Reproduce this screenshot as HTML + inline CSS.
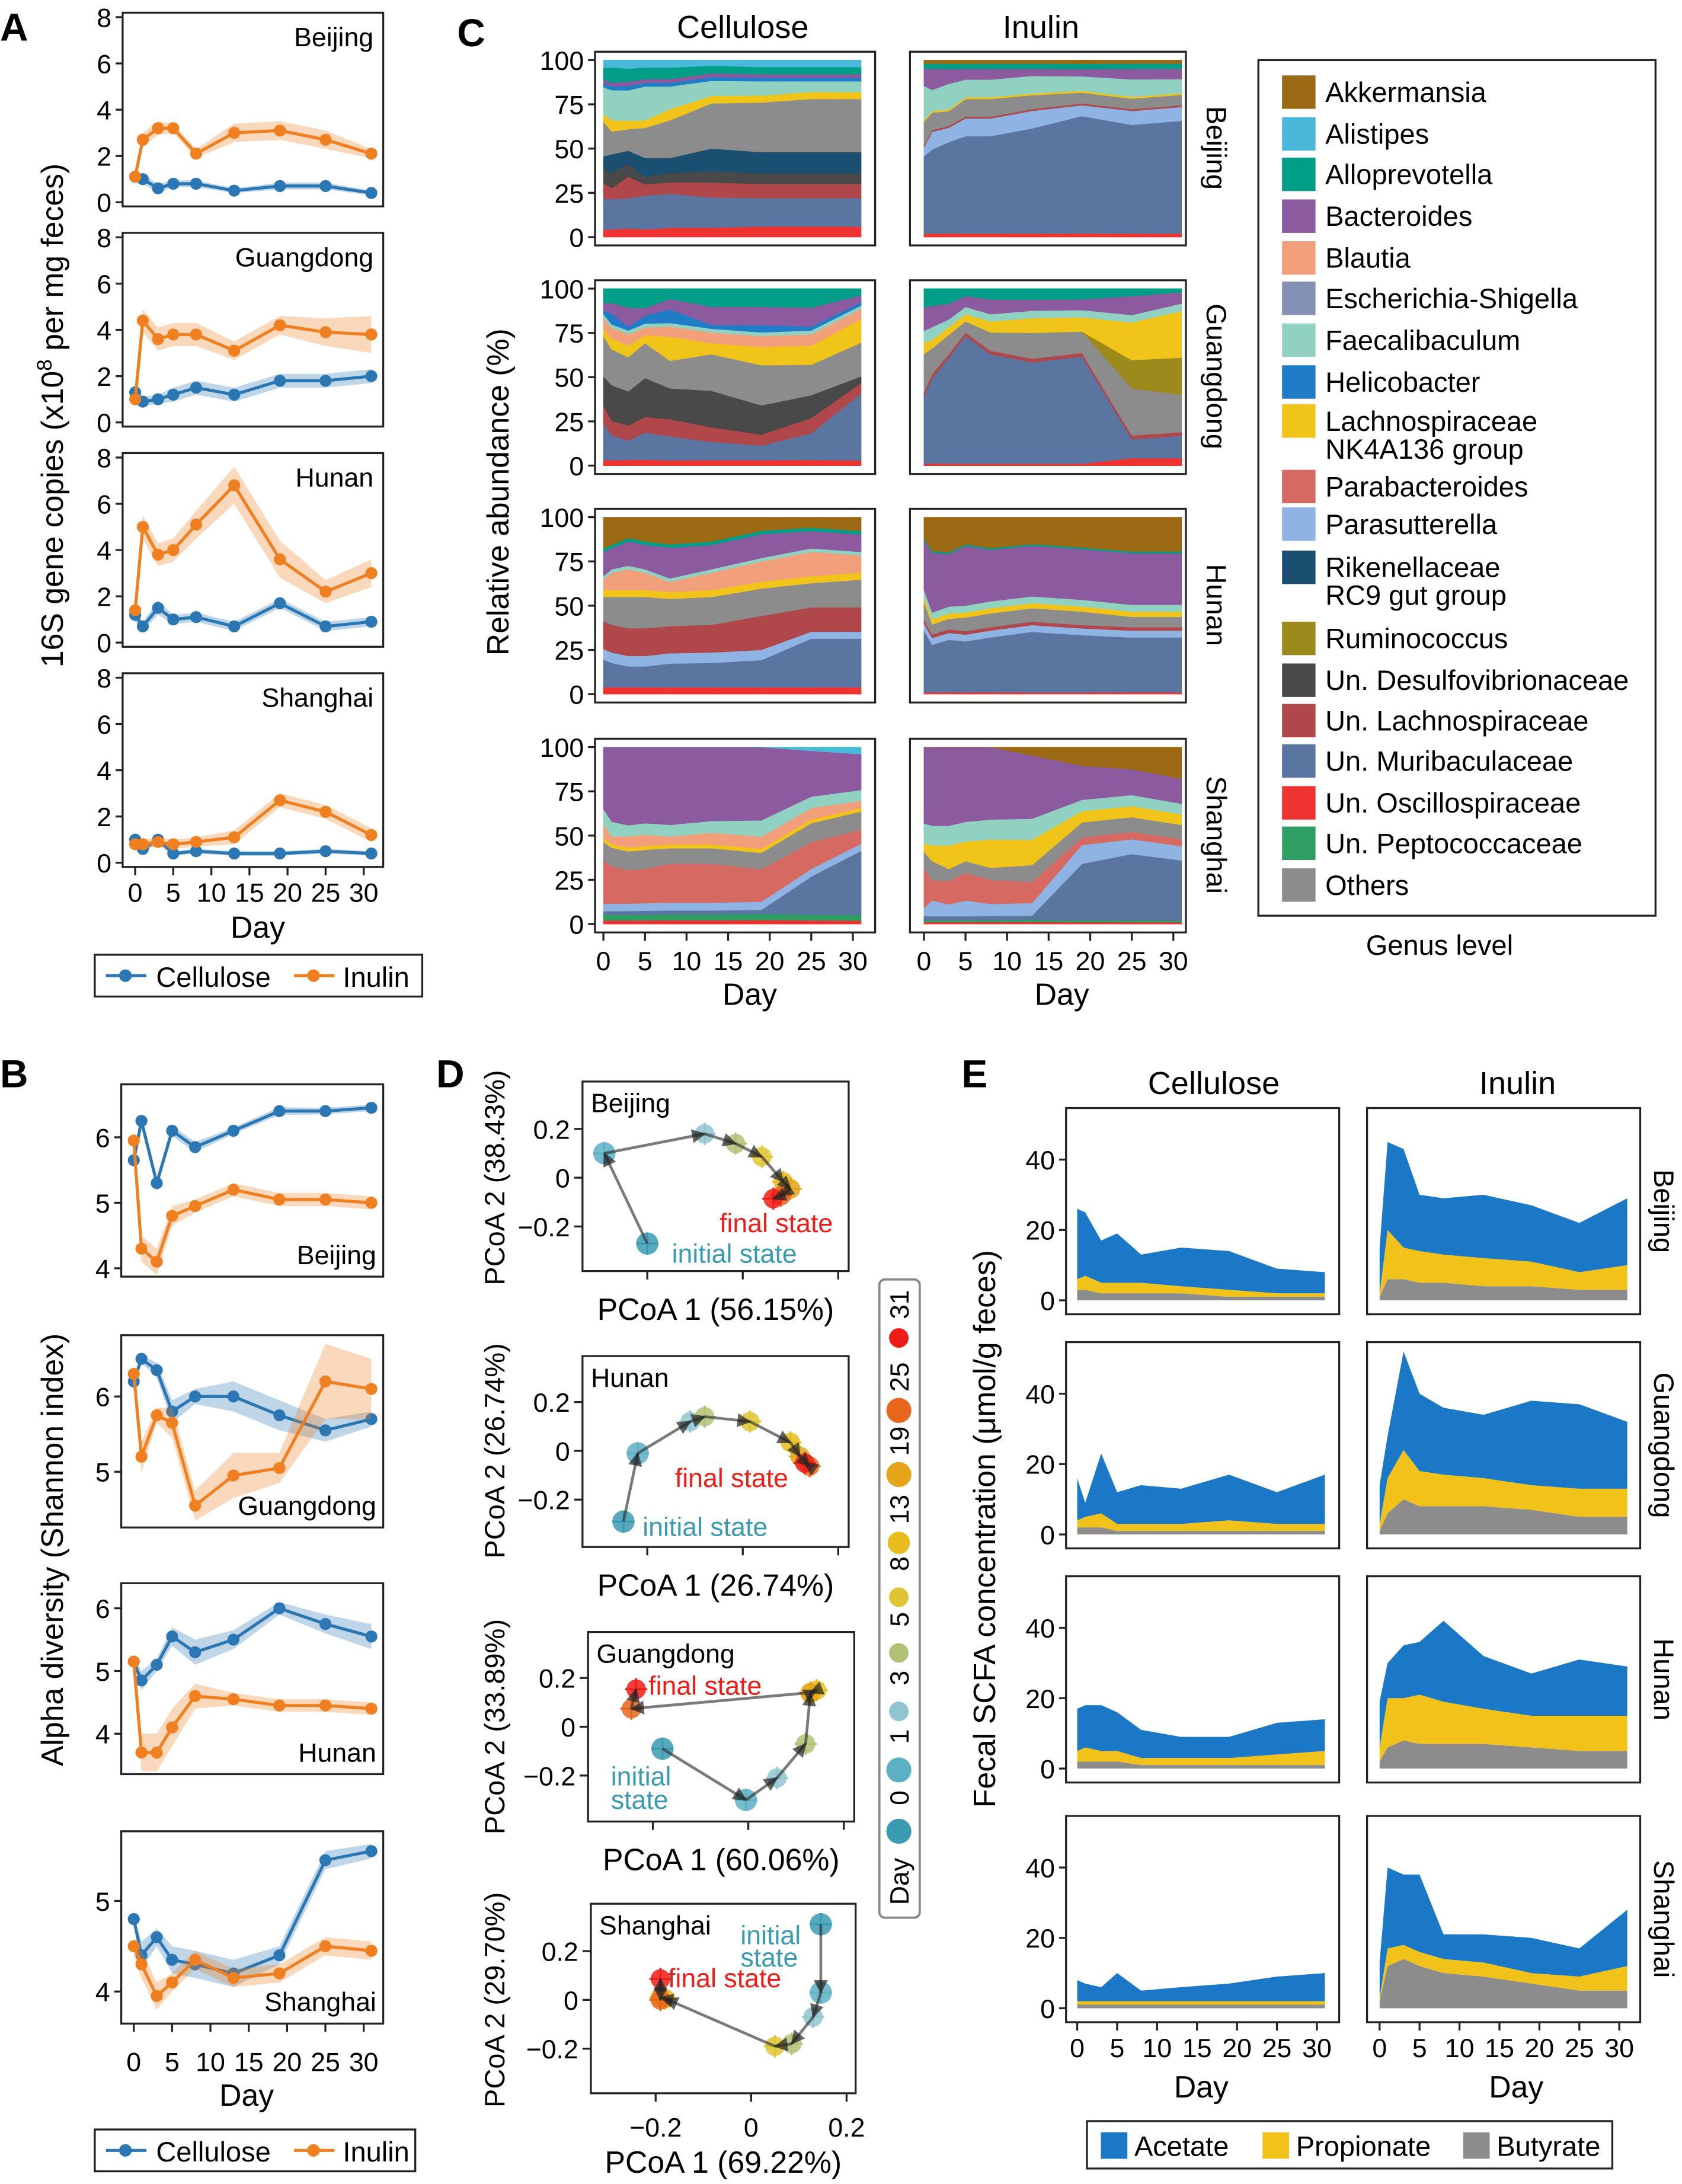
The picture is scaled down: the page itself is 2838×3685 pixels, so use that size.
<!DOCTYPE html>
<html><head><meta charset="utf-8">
<style>
html,body{margin:0;padding:0;background:#fff;}
svg{display:block;}
text{font-family:"Liberation Sans",Arial,sans-serif;}
</style></head>
<body>
<svg id="fig" xmlns="http://www.w3.org/2000/svg" width="2838" height="3685" viewBox="0 0 1207 1567">
<defs>
<marker id="arr" viewBox="0 0 10 10" refX="9" refY="5" markerWidth="5" markerHeight="5" orient="auto"><path d="M0,0 L10,5 L0,10 z" fill="#222" fill-opacity="0.7"/></marker>
</defs>
<rect x="0" y="0" width="1207" height="1567" fill="#fff"/>
</svg>
<script>
const NS="http://www.w3.org/2000/svg";
const fig=document.getElementById('fig');
const days=[0,1,3,5,8,13,19,25,31];
const regions=["Beijing","Guangdong","Hunan","Shanghai"];

// ---------- Panel A data (16S copies) ----------
const aCellulose=[[1.1,1.0,0.6,0.8,0.8,0.5,0.7,0.7,0.4],[1.3,0.9,1.0,1.2,1.5,1.2,1.8,1.8,2.0],[1.2,0.7,1.5,1.0,1.1,0.7,1.7,0.7,0.9],[1.0,0.6,1.0,0.4,0.5,0.4,0.4,0.5,0.4]];
const aInulin=[[1.1,2.7,3.2,3.2,2.1,3.0,3.1,2.7,2.1],[1.0,4.4,3.6,3.8,3.8,3.1,4.2,3.9,3.8],[1.4,5.0,3.8,4.0,5.1,6.8,3.6,2.2,3.0],[0.8,0.8,0.9,0.8,0.9,1.1,2.7,2.2,1.2]];
const aCelErr=[[0.2,0.2,0.2,0.15,0.15,0.1,0.15,0.15,0.1],[0.3,0.2,0.2,0.3,0.3,0.3,0.3,0.3,0.3],[0.3,0.2,0.3,0.2,0.2,0.2,0.2,0.2,0.2],[0.2,0.1,0.2,0.1,0.1,0.1,0.1,0.1,0.1]];
const aInuErr=[[0.2,0.3,0.3,0.2,0.2,0.4,0.4,0.4,0.2],[0.2,0.5,0.5,0.5,0.5,0.4,0.4,0.6,0.8],[0.3,0.5,0.5,0.5,0.6,0.8,0.8,0.5,0.6],[0.2,0.2,0.2,0.2,0.2,0.3,0.3,0.3,0.3]];

// ---------- Panel B data (Shannon) ----------
const bCellulose=[[5.65,6.25,5.3,6.1,5.85,6.1,6.4,6.4,6.45],[6.2,6.5,6.35,5.8,6.0,6.0,5.75,5.55,5.7],[5.15,4.85,5.1,5.55,5.3,5.5,6.0,5.75,5.55],[4.8,4.4,4.6,4.35,4.3,4.2,4.4,5.45,5.55]];
const bInulin=[[5.95,4.3,4.1,4.8,4.95,5.2,5.05,5.05,5.0],[6.3,5.2,5.75,5.65,4.55,4.95,5.05,6.2,6.1],[5.15,3.7,3.7,4.1,4.6,4.55,4.45,4.45,4.4],[4.5,4.3,3.95,4.1,4.35,4.15,4.2,4.5,4.45]];
const bCelErr=[[0.05,0.05,0.05,0.08,0.08,0.05,0.06,0.05,0.05],[0.05,0.05,0.1,0.15,0.1,0.2,0.2,0.15,0.1],[0.1,0.15,0.1,0.15,0.2,0.15,0.1,0.15,0.2],[0.05,0.15,0.1,0.15,0.15,0.15,0.1,0.1,0.08]];
const bInuErr=[[0.1,0.2,0.2,0.15,0.1,0.1,0.1,0.1,0.1],[0.1,0.2,0.1,0.2,0.2,0.3,0.2,0.5,0.4],[0.1,0.3,0.3,0.3,0.2,0.1,0.1,0.1,0.1],[0.1,0.15,0.15,0.1,0.1,0.1,0.1,0.1,0.1]];

// ---------- Panel C data (genus stacks) ----------
const genera=["Akkermansia","Alistipes","Alloprevotella","Bacteroides","Blautia","Escherichia-Shigella","Faecalibaculum","Helicobacter","Lachnospiraceae|NK4A136 group","Parabacteroides","Parasutterella","Rikenellaceae|RC9 gut group","Ruminococcus","Un. Desulfovibrionaceae","Un. Lachnospiraceae","Un. Muribaculaceae","Un. Oscillospiraceae","Un. Peptococcaceae","Others"];
const genusColors=["#9c6a14","#4ab9d9","#009e86","#8c5a9e","#f2a07b","#8491b4","#91d1c2","#1f7dc8","#f0c419","#d66a63","#8fb3e3","#1b4f72","#9c8a1c","#494949","#b0474a","#5a76a0","#ee3330","#2e9e62","#8c8c8c"];
const stackOrder=[16,17,15,10,14,9,13,11,18,12,8,4,6,5,7,3,2,1,0];
const z=[0,0,0,0,0,0,0,0,0];
const cBeijingCel=[z,[4,4,4,4,4,3,4,4,4],[6,8,6,6,6,4,4,4,4],[2,2,2,2,2,2,2,2,2],z,z,[14,16,14,18,12,8,8,6,6],[2,2,2,2,2,2,2,2,2],[4,6,4,4,6,4,4,4,4],z,z,[6,10,6,10,8,12,12,12,12],z,[8,8,6,4,5,6,6,6,6],[8,6,10,6,6,8,8,8,8],[16,16,14,18,18,16,16,16,16],[4,4,4,4,5,5,6,6,6],z,[18,12,10,16,20,24,28,30,30]];
const cBeijingInu=[[2,2,2,2,2,2,2,2,2],z,[3,3,3,3,3,3,3,3,3],[10,12,8,6,6,4,4,6,6],z,z,[20,12,14,10,10,10,8,10,8],z,[1,1,1,1,1,1,1,1,1],z,[5,10,8,10,10,10,6,8,8],z,z,z,[1,1,1,1,1,1,1,1,1],[45,48,50,55,55,60,65,62,65],[2,2,2,2,2,2,2,2,2],z,[14,10,8,10,10,8,6,6,6]];
const cGuangdongCel=[z,z,[8,8,10,10,6,10,10,10,4],[4,6,10,4,6,10,10,10,4],[6,6,6,4,6,6,6,6,6],z,[2,2,2,2,2,2,2,2,2],[2,6,2,4,8,2,4,2,2],[4,6,6,4,14,6,10,10,14],z,z,z,z,[16,20,18,20,18,20,16,12,4],[10,8,8,8,10,8,6,8,6],[20,14,10,14,14,10,8,14,40],[3,3,3,3,3,3,3,3,3],z,[22,20,18,18,16,20,22,16,20]];
const cGuangdongInu=[z,z,[10,8,8,4,6,6,6,4,2],[12,10,8,6,8,6,6,10,6],z,z,[6,6,4,4,4,4,4,4,4],z,[6,4,4,4,6,8,8,20,25],z,z,z,[0,0,0,0,0,0,0,15,20],z,[2,2,2,2,2,2,2,2,2],[35,40,55,70,60,55,60,10,12],[1,1,1,1,1,1,1,4,4],z,[20,12,10,6,10,14,12,25,20]];
const cHunanCel=[[18,16,12,14,16,14,8,6,8],z,[2,2,2,2,2,2,2,2,2],[14,12,14,14,18,14,14,10,10],[6,10,12,10,6,10,12,14,10],z,[2,2,2,2,2,2,2,2,2],z,[4,4,4,4,4,4,4,4,4],z,[6,6,6,6,6,6,6,4,4],z,z,z,[16,16,16,16,16,16,20,14,14],[16,14,12,12,14,14,16,28,28],[4,4,4,4,4,4,4,4,4],z,[14,16,18,18,16,16,16,14,16]];
const cHunanInu=[[12,20,20,16,18,16,18,20,20],z,[1,1,1,1,1,1,1,1,1],[28,35,30,35,30,30,30,30,30],z,z,[4,4,4,4,4,4,4,4,4],z,[3,3,3,3,3,3,3,3,3],z,[4,4,4,4,4,4,4,4,4],z,z,z,[2,2,2,2,2,2,2,2,2],[35,28,30,30,32,36,34,32,32],[1,1,1,1,1,1,1,1,1],z,[10,6,6,8,8,8,8,6,6]];
const cShanghaiCel=[z,[0,0,0,0,0,0,0,2,4],z,[34,40,42,40,40,38,36,24,20],[8,4,6,6,4,6,6,6,4],z,[8,8,6,6,6,6,8,6,6],z,[2,2,2,2,2,2,2,2,2],[24,20,18,18,20,20,16,14,8],[4,4,4,4,4,4,4,4,4],z,z,z,z,[2,2,2,2,2,2,2,20,36],[2,2,2,2,2,2,2,2,2],[3,3,3,3,3,3,3,3,3],[10,10,10,10,8,8,8,10,10]];
const cShanghaiInu=[[0,0,0,0,0,4,10,12,18],z,z,[38,40,40,38,36,30,18,14,14],z,z,[10,10,10,10,10,10,6,6,6],z,[4,8,12,10,14,12,6,6,6],[20,10,12,14,12,10,4,4,4],[4,8,6,8,6,6,10,8,8],z,z,z,z,[2,2,2,2,2,2,30,36,34],[1,1,1,1,1,1,1,1,1],[1,1,1,1,1,1,1,1,1],[8,10,6,6,6,8,8,8,8]];
const cCellulose=[cBeijingCel,cGuangdongCel,cHunanCel,cShanghaiCel];
const cInulin=[cBeijingInu,cGuangdongInu,cHunanInu,cShanghaiInu];

// ---------- Panel D data (PCoA) ----------
const dRegions=["Beijing","Hunan","Guangdong","Shanghai"];
const dPC1=[[-0.2,-0.29,-0.08,-0.015,0.04,0.085,0.1,0.08,0.064],[-0.25,-0.22,-0.11,-0.08,0.015,0.1,0.12,0.14,0.13],[-0.18,-0.005,0.06,0.12,0.13,0.143,0.13,-0.245,-0.235],[0.146,0.146,0.13,0.085,0.05,-0.18,-0.19,-0.19,-0.19]];
const dPC2=[[-0.27,0.1,0.18,0.14,0.086,-0.017,-0.046,-0.074,-0.086],[-0.29,-0.01,0.12,0.14,0.12,0.034,-0.023,-0.063,-0.05],[-0.09,-0.3,-0.21,-0.07,0.137,0.15,0.14,0.074,0.154],[0.31,0.03,-0.07,-0.18,-0.19,0.005,0.01,0.0,0.086]];
const dPC1Labels=["PCoA 1 (56.15%)","PCoA 1 (26.74%)","PCoA 1 (60.06%)","PCoA 1 (69.22%)"];
const dPC2Labels=["PCoA 2 (38.43%)","PCoA 2 (26.74%)","PCoA 2 (33.89%)","PCoA 2 (29.70%)"];
const dayColors=["#3a9ab2","#5cb0c4","#8fc5cf","#b1c276","#dfc534","#e9bc1e","#e5a419","#e8661c","#ee1c16"];
const dayRadius=[8,8,7,7,7,7,7,7,7];

// ---------- Panel E data (SCFA) ----------
const eAcetCel=[[20,18,12,14,8,11,11,7,6],[12,4,17,9,11,10,13,9,14],[12,12,13,11,8,6,6,9,9],[6,5,4,8,3,4,5,7,8]];
const ePropCel=[[3,4,3,3,3,2,2,1,1],[2,3,4,2,2,2,3,2,2],[3,4,3,3,2,2,2,3,4],[1,1,1,1,1,1,1,1,1]];
const eButCel=[[3,3,2,2,2,2,1,1,1],[2,2,2,1,1,1,1,1,1],[2,2,2,2,1,1,1,1,1],[1,1,1,1,1,1,1,1,1]];
const eAcetInu=[[13,25,28,16,16,18,16,14,19],[11,12,28,22,19,18,24,24,19],[13,10,15,15,23,15,12,16,14],[10,23,20,22,7,8,10,8,16]];
const ePropInu=[[1,14,9,9,8,8,7,5,7],[2,10,14,10,9,8,7,8,8],[4,14,12,14,12,10,9,10,10],[1,5,4,4,4,4,3,4,7]];
const eButInu=[[1,6,6,5,5,4,4,3,3],[1,6,10,8,8,8,7,5,5],[2,6,8,7,7,7,6,5,5],[2,12,14,12,10,9,7,5,5]];

// ---------- helpers ----------
function mk(tag,attrs,parent,name,inter){
  const el=document.createElementNS(NS,tag);
  for(const k in attrs) el.setAttribute(k,attrs[k]);
  
  
  (parent||fig).appendChild(el);
  return el;
}
function txt(x,y,s,size,anchor,parent,name,extra){
  const a={x:x,y:y,'font-size':size,'text-anchor':anchor||'start',fill:'#000'};
  if(extra) for(const k in extra) a[k]=extra[k];
  const t=mk('text',a,parent,name);
  t.textContent=s;
  return t;
}
function grp(name){return mk('g',{},fig,name);}
const BLUE="#2a77b4", ORANGE="#f07f1f";

// ---------- line panels (A & B) ----------
function linePanel(g,box,xs,ys,ticks,cel,inu,celE,inuE,label,labelPos){
  mk('rect',{x:box[0],y:box[1],width:box[2]-box[0],height:box[3]-box[1],fill:'none',stroke:'#222','stroke-width':1.4},g,'plot-frame');
  ticks.forEach(t=>{
    mk('line',{x1:box[0]-5,x2:box[0],y1:ys(t),y2:ys(t),stroke:'#222','stroke-width':1.4},g,'y-tick');
    txt(box[0]-8,ys(t)+7,String(t),19,'end',g,'y-tick-label');
  });
  [[cel,celE,BLUE,'cellulose'],[inu,inuE,ORANGE,'inulin']].forEach(([v,e,c,nm])=>{
    let up=days.map((d,i)=>xs(d)+','+ys(v[i]+e[i]));
    let dn=days.map((d,i)=>xs(d)+','+ys(v[i]-e[i])).reverse();
    mk('polygon',{points:up.concat(dn).join(' '),fill:c,'fill-opacity':0.3},g,nm+'-error-band');
    mk('polyline',{points:days.map((d,i)=>xs(d)+','+ys(v[i])).join(' '),fill:'none',stroke:c,'stroke-width':2.2},g,nm+'-line');
    days.forEach((d,i)=>{mk('circle',{cx:xs(d),cy:ys(v[i]),r:4.3,fill:c},g,nm+'-point');});
  });
  txt(labelPos[0],labelPos[1],label,19,'end',g,'region-label');
}
function xAxisDays(g,yb,xs,ly){
  [0,5,10,15,20,25,30].forEach(t=>{
    mk('line',{x1:xs(t),x2:xs(t),y1:yb,y2:yb+6,stroke:'#222','stroke-width':1.4},g,'x-tick');
    txt(xs(t),ly,String(t),19,'middle',g,'x-tick-label');
  });
}
function lineLegend(g,x,y,w,name){
  mk('rect',{x:x,y:y,width:w,height:30,fill:'#fff',stroke:'#222','stroke-width':1.4},g,name+'-box');
  mk('line',{x1:x+8,x2:x+37,y1:y+15,y2:y+15,stroke:BLUE,'stroke-width':2.2},g,'legend-cellulose-line');
  mk('circle',{cx:x+22,cy:y+15,r:4.5,fill:BLUE},g,'legend-cellulose-marker');
  txt(x+44,y+23,'Cellulose',20,'start',g,'legend-cellulose-label');
  mk('line',{x1:x+143,x2:x+172,y1:y+15,y2:y+15,stroke:ORANGE,'stroke-width':2.2},g,'legend-inulin-line');
  mk('circle',{cx:x+157,cy:y+15,r:4.5,fill:ORANGE},g,'legend-inulin-marker');
  txt(x+178,y+23,'Inulin',20,'start',g,'legend-inulin-label');
}

// Panel A
const gA=grp('panel-a-16s-copies');
txt(0,29,'A',28,'start',gA,'panel-letter-a',{'font-weight':'bold'});
for(let i=0;i<4;i++){
  const yZ=145+158*i;
  const xs=d=>97+d*164/30, ys=v=>yZ-v*16.6;
  linePanel(gA,[88,yZ-136,275,yZ+3],xs,ys,[0,2,4,6,8],aCellulose[i],aInulin[i],aCelErr[i],aInuErr[i],regions[i],[268,yZ-112]);
  if(i===3) xAxisDays(gA,yZ+3,xs,647);
}
txt(185,673,'Day',22,'middle',gA,'x-axis-title');
{const t=txt(0,0,'',22,'middle',gA,'y-axis-title',{transform:'translate(45,298) rotate(-90)'});
 t.innerHTML='16S gene copies (x10<tspan dy="-8" font-size="15">8</tspan><tspan dy="8"> per mg feces)</tspan>';}
lineLegend(gA,68,685,235,'legend-a');

// Panel B
const gB=grp('panel-b-alpha-diversity');
txt(0,780,'B',28,'start',gB,'panel-letter-b',{'font-weight':'bold'});
const bBoxes=[[778,916],[958,1096],[1136,1273],[1314,1452]];
const bScale=[[863,47,[4,5,6]],[1056,54,[5,6]],[1199,45,[4,5,6]],[1364,65,[4,5]]];
for(let i=0;i<4;i++){
  const xs=d=>96+d*165/30; const [y5,k,tk]=bScale[i]; const ys=v=>y5-(v-5)*k;
  linePanel(gB,[87,bBoxes[i][0],275,bBoxes[i][1]],xs,ys,tk,bCellulose[i],bInulin[i],bCelErr[i],bInuErr[i],regions[i],[270,bBoxes[i][1]-9]);
  if(i===3) xAxisDays(gB,1452,xs,1486);
}
txt(177,1511,'Day',22,'middle',gB,'x-axis-title');
txt(0,0,'Alpha diversity (Shannon index)',22,'middle',gB,'y-axis-title',{transform:'translate(45,1112) rotate(-90)'});
lineLegend(gB,68,1528,230,'legend-b');

// Panel C
const gC=grp('panel-c-relative-abundance');
txt(328,33,'C',28,'start',gC,'panel-letter-c',{'font-weight':'bold'});
txt(533,27,'Cellulose',23,'middle',gC,'column-title-cellulose');
txt(747,27,'Inulin',23,'middle',gC,'column-title-inulin');
const cYZ=[170,334,498,663];
for(let r=0;r<4;r++){
  const yZ=cYZ[r]; const ys=v=>yZ-v*1.27;
  [[427,628,433,cCellulose[r],'cellulose'],[653,851,663,cInulin[r],'inulin']].forEach(([bx0,bx1,x0,data,nm])=>{
    const xs=d=>x0+d*179/30;
    const g=mk('g',{},gC,'stack-'+nm+'-'+regions[r].toLowerCase());
    const totals=days.map((d,j)=>genera.reduce((s,_,gi)=>s+data[gi][j],0));
    let cum=days.map(()=>0);
    stackOrder.forEach(gi=>{
      const lo=cum.slice(); cum=cum.map((c,j)=>c+data[gi][j]*100/totals[j]);
      if(data[gi].every(v=>v===0)) return;
      const up=days.map((d,j)=>xs(d)+','+ys(cum[j]));
      const dn=days.map((d,j)=>xs(d)+','+ys(lo[j])).reverse();
      mk('polygon',{points:up.concat(dn).join(' '),fill:genusColors[gi],stroke:genusColors[gi],'stroke-width':0.3},g,'area-'+genera[gi].split('|')[0].toLowerCase().replace(/[^a-z]+/g,'-'));
    });
    mk('rect',{x:bx0,y:yZ-133,width:bx1-bx0,height:139,fill:'none',stroke:'#222','stroke-width':1.4},g,'plot-frame');
    if(nm==='cellulose'){
      [0,25,50,75,100].forEach(t=>{
        mk('line',{x1:bx0-5,x2:bx0,y1:ys(t),y2:ys(t),stroke:'#222','stroke-width':1.4},g,'y-tick');
        txt(bx0-8,ys(t)+7,String(t),19,'end',g,'y-tick-label');
      });
    } else {
      txt(0,0,regions[r],20,'middle',g,'region-label',{transform:'translate(866,'+(yZ-64)+') rotate(90)'});
    }
    if(r===3){ xAxisDays(g,yZ+6,xs,696); }
  });
}
txt(538,721,'Day',22,'middle',gC,'x-axis-title-cellulose');
txt(762,721,'Day',22,'middle',gC,'x-axis-title-inulin');
txt(0,0,'Relative abundance (%)',22,'middle',gC,'y-axis-title',{transform:'translate(365,353) rotate(-90)'});
// legend
const gL=mk('g',{},gC,'genus-legend');
mk('rect',{x:903,y:43,width:285,height:614,fill:'#fff',stroke:'#222','stroke-width':1.4},gL,'legend-box');
const legY=[66,96,125,155,185,214,244,274,302,349,376,407,458,488,517,546,576,605,635];
genera.forEach((gname,i)=>{
  mk('rect',{x:920,y:legY[i]-12,width:24,height:24,fill:genusColors[i]},gL,'legend-swatch');
  const parts=gname.split('|');
  parts.forEach((p,k)=>txt(951,legY[i]+7+k*20,p,20,'start',gL,'legend-label'));
});
txt(1033,685,'Genus level',20,'middle',gC,'legend-caption');

// Panel D
const gD=grp('panel-d-pcoa');
txt(313,780,'D',28,'start',gD,'panel-letter-d',{'font-weight':'bold'});
const dBoxes=[[418,776,609,912,845],[418,973,609,1110,1041],[422,1171,613,1307,1239],[424,1366,614,1502,1435]];
const dXLab=[947,1145,1342,1559];
for(let r=0;r<4;r++){
  const [bx0,by0,bx1,by1,yZ]=dBoxes[r];
  const xs=v=>533+v*342.5+(bx0-418), ys=v=>yZ-v*175;
  const g=mk('g',{},gD,'pcoa-'+dRegions[r].toLowerCase());
  mk('rect',{x:bx0,y:by0,width:bx1-bx0,height:by1-by0,fill:'none',stroke:'#222','stroke-width':1.4},g,'plot-frame');
  [0.2,0,-0.2].forEach(t=>{
    mk('line',{x1:bx0-6,x2:bx0,y1:ys(t),y2:ys(t),stroke:'#222','stroke-width':1.4},g,'y-tick');
    txt(bx0-9,ys(t)+7,t===0?'0':(t<0?'\u22120.2':'0.2'),19,'end',g,'y-tick-label');
  });
  [-0.2,0,0.2].forEach(t=>{
    mk('line',{x1:xs(t),x2:xs(t),y1:by1,y2:by1+6,stroke:'#222','stroke-width':1.4},g,'x-tick');
    if(r===3) txt(xs(t),1533,t===0?'0':(t<0?'\u22120.2':'0.2'),19,'middle',g,'x-tick-label');
  });
  const px=dPC1[r], py=dPC2[r];
  days.forEach((d,i)=>{
    mk('line',{x1:xs(px[i])-8,x2:xs(px[i])+8,y1:ys(py[i]),y2:ys(py[i]),stroke:dayColors[i],'stroke-width':1.3},g,'error-bar');
    mk('line',{x1:xs(px[i]),x2:xs(px[i]),y1:ys(py[i])-8,y2:ys(py[i])+8,stroke:dayColors[i],'stroke-width':1.3},g,'error-bar');
    mk('circle',{cx:xs(px[i]),cy:ys(py[i]),r:dayRadius[i],fill:dayColors[i],'fill-opacity':0.85},g,'point-day-'+d);
  });
  for(let i=0;i<8;i++){
    mk('line',{x1:xs(px[i]),y1:ys(py[i]),x2:xs(px[i+1]),y2:ys(py[i+1]),stroke:'#333','stroke-opacity':0.65,'stroke-width':2,'marker-end':'url(#arr)'},g,'trajectory-arrow');
  }
  txt(bx0+6,by0+22,dRegions[r],19,'start',g,'region-label');
  txt((bx0+bx1)/2,dXLab[r],dPC1Labels[r],22,'middle',g,'x-axis-title');
  txt(0,0,dPC2Labels[r],20,'middle',g,'y-axis-title',{transform:'translate(362,'+yZ+') rotate(-90)'});
}
const RED="#ee1c16", TEAL="#3a9ab2";
txt(557,884,'final state',19,'middle',gD,'annotation-final-state',{fill:RED});
txt(527,906,'initial state',19,'middle',gD,'annotation-initial-state',{fill:TEAL});
txt(525,1067,'final state',19,'middle',gD,'annotation-final-state',{fill:RED});
txt(506,1102,'initial state',19,'middle',gD,'annotation-initial-state',{fill:TEAL});
txt(506,1216,'final state',19,'middle',gD,'annotation-final-state',{fill:RED});
txt(460,1281,'initial',19,'middle',gD,'annotation-initial-state',{fill:TEAL});
txt(459,1298,'state',19,'middle',gD,'annotation-initial-state',{fill:TEAL});
txt(553,1395,'initial',19,'middle',gD,'annotation-initial-state',{fill:TEAL});
txt(552,1411,'state',19,'middle',gD,'annotation-initial-state',{fill:TEAL});
txt(520,1426,'final state',19,'middle',gD,'annotation-final-state',{fill:RED});
// day legend
const gDL=mk('g',{},gD,'day-legend');
mk('rect',{x:631,y:918,width:29,height:458,rx:4,fill:'#fff',stroke:'#888','stroke-width':1.6},gDL,'day-legend-box');
const dlY=[1314,1270,1228,1186,1146,1107,1058,1012,960];
days.forEach((d,i)=>{
  mk('circle',{cx:645,cy:dlY[i],r:[9,9,7,7,7,8,9,9,7][i],fill:dayColors[i]},gDL,'day-legend-marker');
  txt(0,0,String(d),19,'middle',gDL,'day-legend-label',{transform:'translate(652,'+(dlY[i]-24)+') rotate(-90)'});
});
txt(0,0,'Day',19,'middle',gDL,'day-legend-title',{transform:'translate(652,1350) rotate(-90)'});

// Panel E
const gE=grp('panel-e-scfa');
txt(690,780,'E',28,'start',gE,'panel-letter-e',{'font-weight':'bold'});
txt(871,785,'Cellulose',23,'middle',gE,'column-title-cellulose');
txt(1089,785,'Inulin',23,'middle',gE,'column-title-inulin');
const eYZ=[933,1101,1269,1441];
const ACE="#1b78c6", PRO="#f0c21a", BUT="#8c8c8c";
for(let r=0;r<4;r++){
  const yZ=eYZ[r]; const ys=v=>yZ-v*2.525;
  [[765,961,773,eAcetCel[r],ePropCel[r],eButCel[r],'cellulose'],[981,1177,990,eAcetInu[r],ePropInu[r],eButInu[r],'inulin']].forEach(([bx0,bx1,x0,ac,pr,bu,nm])=>{
    const xs=d=>x0+d*172/30;
    const g=mk('g',{},gE,'scfa-'+nm+'-'+regions[r].toLowerCase());
    let cum=days.map(()=>0);
    [[bu,BUT,'butyrate'],[pr,PRO,'propionate'],[ac,ACE,'acetate']].forEach(([v,c,n])=>{
      const lo=cum.slice(); cum=cum.map((s,j)=>s+v[j]);
      const up=days.map((d,j)=>xs(d)+','+ys(cum[j]));
      const dn=days.map((d,j)=>xs(d)+','+ys(lo[j])).reverse();
      mk('polygon',{points:up.concat(dn).join(' '),fill:c},g,'area-'+n);
    });
    mk('rect',{x:bx0,y:yZ-138,width:bx1-bx0,height:148,fill:'none',stroke:'#222','stroke-width':1.4},g,'plot-frame');
    if(nm==='cellulose'){
      [0,20,40].forEach(t=>{
        mk('line',{x1:bx0-5,x2:bx0,y1:ys(t),y2:ys(t),stroke:'#222','stroke-width':1.4},g,'y-tick');
        txt(bx0-8,ys(t)+7,String(t),19,'end',g,'y-tick-label');
      });
    } else {
      txt(0,0,regions[r],20,'middle',g,'region-label',{transform:'translate(1187,'+(yZ-64)+') rotate(90)'});
    }
    if(r===3) xAxisDays(g,yZ+10,xs,1476);
  });
}
txt(862,1505,'Day',22,'middle',gE,'x-axis-title-cellulose');
txt(1088,1505,'Day',22,'middle',gE,'x-axis-title-inulin');
txt(0,0,'Fecal SCFA concentration (\u03bcmol/g feces)',22,'middle',gE,'y-axis-title',{transform:'translate(714,1097) rotate(-90)'});
const gEL=mk('g',{},gE,'scfa-legend');
mk('rect',{x:780,y:1522,width:377,height:34,fill:'#fff',stroke:'#222','stroke-width':1.4},gEL,'legend-box');
[[790,ACE,'Acetate'],[906,PRO,'Propionate'],[1050,BUT,'Butyrate']].forEach(([x,c,l])=>{
  mk('rect',{x:x,y:1530,width:19,height:19,fill:c},gEL,'legend-swatch');
  txt(x+24,1547,l,20,'start',gEL,'legend-label');
});
</script>
</body></html>
